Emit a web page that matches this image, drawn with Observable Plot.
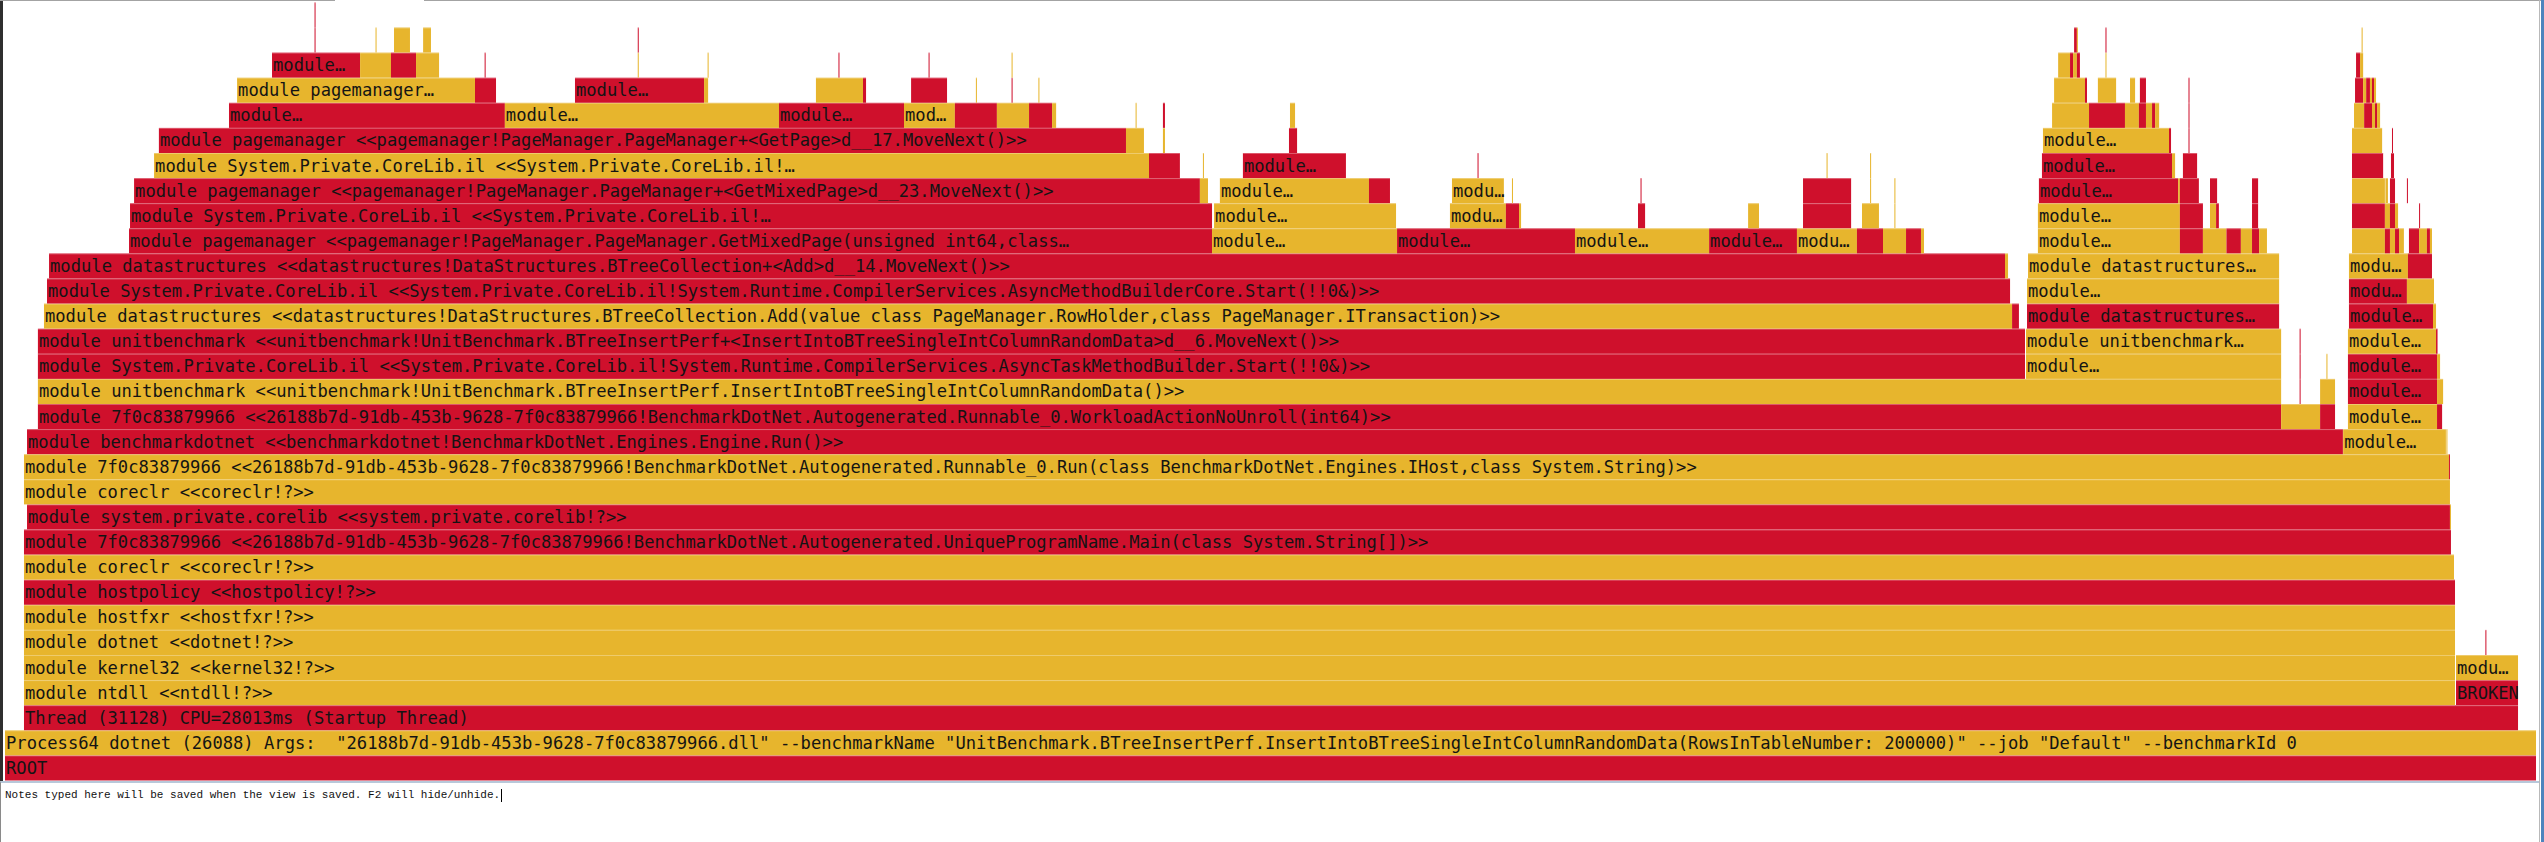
<!DOCTYPE html>
<html>
<head>
<meta charset="utf-8">
<script src="https://cdn.jsdelivr.net/npm/d3@7"></script>
<script src="https://cdn.jsdelivr.net/npm/@observablehq/plot@0.6"></script>
<style>
  html, body { margin: 0; padding: 0; background: #fff; }
  body { width: 2544px; height: 842px; overflow: hidden; position: relative; }
  #chart { position: absolute; left: 0; top: 0; }
  #chart svg text { white-space: pre; }
  #leftbar { position: absolute; left: 0; top: 0; width: 3px; height: 782px; background: #2e2e2e; }
  #topline { position: absolute; left: 0; top: 0; width: 2544px; height: 1px; background: #a3a3a3; }
  #topgap { position: absolute; left: 335px; top: 0; width: 89px; height: 1px; background: #fff; }
  #rightgray { position: absolute; left: 2539px; top: 0; width: 1px; height: 842px; background: #b9b9b9; }
  #rightbar { position: absolute; left: 2541px; top: 0; width: 3px; height: 842px; background: #4d84bd; }
  #notes { position: absolute; left: 0; top: 781px; width: 2539px; height: 61px;
           border-top: 2px solid #b8c8da; border-left: 1px solid #8a8a8a; box-sizing: border-box;
           font-family: "Liberation Mono", monospace; font-size: 11px; color: #111;
           padding: 6px 0 0 4px; line-height: 13px; white-space: pre; }
  #cursor { display: inline-block; width: 1px; height: 13px; background: #000; vertical-align: top; margin-left: 1px; }
</style>
</head>
<body>
<div id="chart"></div>
<div id="leftbar"></div>
<div id="topline"></div>
<div id="topgap"></div>
<div id="notes">Notes typed here will be saved when the view is saved. F2 will hide/unhide.<span id="cursor"></span></div>
<div id="rightgray"></div>
<div id="rightbar"></div>
<script>
// Flame graph frames: [start % of samples, end % of samples, colour group, displayed label]
const level00 = [[0, 100, "R", "ROOT"]];
const level01 = [[0, 100, "Y", 'Process64 dotnet (26088) Args:  "26188b7d-91db-453b-9628-7f0c83879966.dll" --benchmarkName "UnitBenchmark.BTreeInsertPerf.InsertIntoBTreeSingleIntColumnRandomData(RowsInTableNumber: 200000)" --job "Default" --benchmarkId 0']];
const level02 = [[0.75, 99.29, "R", "Thread (31128) CPU=28013ms (Startup Thread)"]];
const level03 = [[0.75, 96.80, "Y", "module ntdll <<ntdll!?>>"], [96.84, 99.29, "R", "BROKEN"]];
const level04 = [[0.75, 96.80, "Y", "module kernel32 <<kernel32!?>>"], [96.84, 99.29, "Y", "modu…"]];
const level05 = [[0.75, 96.80, "Y", "module dotnet <<dotnet!?>>"], [98.00, 98.04, "R", ""]];
const level06 = [[0.75, 96.80, "Y", "module hostfxr <<hostfxr!?>>"]];
const level07 = [[0.75, 96.80, "R", "module hostpolicy <<hostpolicy!?>>"]];
const level08 = [[0.75, 96.76, "Y", "module coreclr <<coreclr!?>>"]];
const level09 = [[0.75, 96.64, "R", "module 7f0c83879966 <<26188b7d-91db-453b-9628-7f0c83879966!BenchmarkDotNet.Autogenerated.UniqueProgramName.Main(class System.String[])>>"]];
const level10 = [[0.87, 96.60, "R", "module system.private.corelib <<system.private.corelib!?>>"], [96.60, 96.64, "Y", ""]];
const level11 = [[0.75, 96.60, "Y", "module coreclr <<coreclr!?>>"]];
const level12 = [[0.75, 96.56, "Y", "module 7f0c83879966 <<26188b7d-91db-453b-9628-7f0c83879966!BenchmarkDotNet.Autogenerated.Runnable_0.Run(class BenchmarkDotNet.Engines.IHost,class System.String)>>"], [96.56, 96.60, "R", ""]];
const level13 = [[0.87, 92.37, "R", "module benchmarkdotnet <<benchmarkdotnet!BenchmarkDotNet.Engines.Engine.Run()>>"], [92.38, 96.44, "Y", "module…"], [96.46, 96.50, "Y", ""]];
const level14 = [[1.30, 89.93, "R", "module 7f0c83879966 <<26188b7d-91db-453b-9628-7f0c83879966!BenchmarkDotNet.Autogenerated.Runnable_0.WorkloadActionNoUnroll(int64)>>"], [89.93, 91.47, "Y", ""], [91.47, 92.06, "R", ""], [92.57, 96.09, "Y", "module…"], [96.09, 96.29, "R", ""]];
const level15 = [[1.30, 89.93, "Y", "module unitbenchmark <<unitbenchmark!UnitBenchmark.BTreeInsertPerf.InsertIntoBTreeSingleIntColumnRandomData()>>"], [90.66, 90.70, "R", ""], [91.47, 92.06, "Y", ""], [92.57, 96.09, "R", "module…"], [96.09, 96.33, "Y", ""]];
const level16 = [[1.30, 79.81, "R", "module System.Private.CoreLib.il <<System.Private.CoreLib.il!System.Runtime.CompilerServices.AsyncTaskMethodBuilder.Start(!!0&)>>"], [79.85, 89.93, "Y", "module…"], [90.66, 90.70, "R", ""], [91.72, 91.76, "Y", ""], [92.57, 96.09, "R", "module…"], [96.09, 96.21, "Y", ""]];
const level17 = [[1.30, 79.81, "R", "module unitbenchmark <<unitbenchmark!UnitBenchmark.BTreeInsertPerf+<InsertIntoBTreeSingleIntColumnRandomData>d__6.MoveNext()>>"], [79.85, 89.93, "Y", "module unitbenchmark…"], [90.66, 90.70, "R", ""], [92.57, 96.05, "Y", "module…"], [96.05, 96.11, "R", ""]];
const level18 = [[1.54, 79.30, "Y", "module datastructures <<datastructures!DataStructures.BTreeCollection.Add(value class PageManager.RowHolder,class PageManager.ITransaction)>>"], [79.30, 79.57, "R", ""], [79.89, 89.85, "R", "module datastructures…"], [92.61, 95.93, "R", "module…"], [95.93, 96.05, "Y", ""]];
const level19 = [[1.66, 79.22, "R", "module System.Private.CoreLib.il <<System.Private.CoreLib.il!System.Runtime.CompilerServices.AsyncMethodBuilderCore.Start(!!0&)>>"], [79.89, 89.85, "Y", "module…"], [92.61, 94.90, "R", "modu…"], [94.90, 95.97, "Y", ""]];
const level20 = [[1.74, 79.02, "R", "module datastructures <<datastructures!DataStructures.BTreeCollection+<Add>d__14.MoveNext()>>"], [79.02, 79.14, "Y", ""], [79.93, 89.85, "Y", "module datastructures…"], [92.61, 94.94, "Y", "modu…"], [94.94, 95.89, "R", ""]];
const level21 = [[4.90, 47.69, "R", "module pagemanager <<pagemanager!PageManager.PageManager.GetMixedPage(unsigned int64,class…"], [47.69, 55.00, "Y", "module…"], [55.00, 62.03, "R", "module…"], [62.03, 67.33, "Y", "module…"], [67.33, 70.80, "R", "module…"], [70.80, 73.17, "Y", "modu…"], [73.17, 74.20, "R", ""], [74.20, 75.11, "Y", ""], [75.11, 75.70, "R", ""], [75.70, 75.82, "Y", ""], [80.32, 85.93, "Y", "module…"], [85.93, 86.84, "R", ""], [86.84, 87.77, "Y", ""], [87.77, 88.34, "R", ""], [88.34, 88.78, "Y", ""], [88.78, 89.06, "R", ""], [89.06, 89.37, "Y", ""], [92.73, 94.03, "Y", ""], [94.03, 94.23, "R", ""], [94.23, 94.43, "Y", ""], [94.43, 94.59, "R", ""], [94.59, 94.78, "Y", ""], [94.98, 95.38, "R", ""], [95.38, 95.69, "Y", ""], [95.69, 95.81, "R", ""], [95.81, 95.89, "Y", ""]];
const level22 = [[4.94, 47.69, "R", "module System.Private.CoreLib.il <<System.Private.CoreLib.il!…"], [47.77, 54.96, "Y", "module…"], [57.09, 59.30, "Y", "modu…"], [59.30, 59.82, "R", ""], [59.82, 59.90, "Y", ""], [64.52, 64.80, "R", ""], [68.87, 69.30, "Y", ""], [71.04, 72.94, "R", ""], [73.37, 74.04, "Y", ""], [74.65, 74.69, "Y", ""], [80.32, 85.93, "Y", "module…"], [85.93, 86.84, "R", ""], [87.12, 87.36, "Y", ""], [87.36, 87.47, "R", ""], [88.78, 89.02, "R", ""], [92.73, 94.03, "R", ""], [94.03, 94.23, "Y", ""], [94.23, 94.43, "R", ""], [94.43, 94.55, "Y", ""], [95.38, 95.42, "R", ""]];
const level23 = [[5.10, 47.21, "R", "module pagemanager <<pagemanager!PageManager.PageManager+<GetMixedPage>d__23.MoveNext()>>"], [47.21, 47.53, "Y", ""], [48.00, 53.89, "Y", "module…"], [53.89, 54.72, "R", ""], [57.17, 59.22, "Y", "modu…"], [59.54, 59.58, "Y", ""], [64.62, 64.66, "R", ""], [71.04, 72.94, "R", ""], [73.69, 73.73, "Y", ""], [74.65, 74.69, "Y", ""], [80.36, 85.86, "R", "module…"], [85.86, 85.93, "Y", ""], [85.93, 86.68, "R", ""], [87.12, 87.40, "R", ""], [88.78, 89.02, "R", ""], [92.73, 94.03, "Y", ""], [94.05, 94.15, "Y", ""], [94.23, 94.43, "R", ""], [94.90, 94.94, "R", ""]];
const level24 = [[5.89, 45.20, "Y", "module System.Private.CoreLib.il <<System.Private.CoreLib.il!…"], [45.20, 46.42, "R", ""], [47.33, 47.37, "Y", ""], [48.91, 52.98, "R", "module…"], [58.18, 58.22, "R", ""], [71.97, 72.01, "Y", ""], [73.69, 73.73, "Y", ""], [80.48, 85.62, "R", "module…"], [85.62, 85.74, "Y", ""], [86.05, 86.61, "R", ""], [92.73, 93.96, "R", ""], [94.27, 94.39, "R", ""]];
const level25 = [[6.08, 44.29, "R", "module pagemanager <<pagemanager!PageManager.PageManager+<GetPage>d__17.MoveNext()>>"], [44.29, 45.00, "Y", ""], [45.75, 45.83, "Y", ""], [50.73, 51.05, "R", ""], [80.52, 85.50, "Y", "module…"], [85.50, 85.58, "R", ""], [86.27, 86.31, "R", ""], [92.73, 93.92, "Y", ""], [94.31, 94.35, "R", ""]];
const level26 = [[8.85, 19.75, "R", "module…"], [19.75, 30.58, "Y", "module…"], [30.58, 35.52, "R", "module…"], [35.52, 37.53, "Y", "mod…"], [37.53, 39.19, "R", ""], [39.19, 40.46, "Y", ""], [40.46, 41.37, "R", ""], [41.37, 41.53, "Y", ""], [44.67, 44.71, "Y", ""], [45.75, 45.83, "R", ""], [50.77, 50.97, "Y", ""], [80.88, 82.34, "Y", ""], [82.34, 83.76, "R", ""], [83.76, 84.31, "Y", ""], [84.31, 84.59, "R", ""], [84.59, 84.83, "Y", ""], [84.83, 84.95, "R", ""], [84.95, 85.11, "Y", ""], [86.27, 86.31, "R", ""], [92.81, 93.21, "Y", ""], [93.21, 93.52, "R", ""], [93.52, 93.64, "Y", ""], [93.64, 93.72, "R", ""], [93.72, 93.84, "Y", ""]];
const level27 = [[9.17, 18.57, "Y", "module pagemanager…"], [18.57, 19.40, "R", ""], [22.52, 27.62, "R", "module…"], [27.62, 27.78, "Y", ""], [32.04, 33.90, "Y", ""], [33.90, 34.02, "R", ""], [35.80, 37.22, "R", ""], [38.36, 38.40, "Y", ""], [39.77, 39.81, "R", ""], [40.83, 40.87, "Y", ""], [80.96, 82.18, "Y", ""], [82.18, 82.26, "R", ""], [82.69, 83.41, "Y", ""], [83.96, 84.16, "Y", ""], [84.35, 84.59, "R", ""], [86.27, 86.31, "R", ""], [92.85, 93.17, "R", ""], [93.17, 93.29, "Y", ""], [93.29, 93.44, "R", ""], [93.44, 93.52, "Y", ""], [93.52, 93.60, "R", ""], [93.60, 93.68, "Y", ""]];
const level28 = [[10.55, 14.03, "R", "module…"], [14.03, 15.25, "Y", ""], [15.25, 16.24, "R", ""], [16.24, 17.15, "Y", ""], [18.95, 18.99, "R", ""], [25.00, 25.04, "Y", ""], [27.76, 27.80, "Y", ""], [32.93, 32.97, "R", ""], [36.49, 36.53, "R", ""], [39.77, 39.81, "Y", ""], [81.12, 81.59, "Y", ""], [81.59, 81.71, "R", ""], [81.71, 81.86, "Y", ""], [81.86, 81.98, "R", ""], [82.99, 83.03, "Y", ""], [92.89, 93.05, "R", ""], [93.05, 93.17, "Y", ""]];
const level29 = [[12.23, 12.27, "R", ""], [14.64, 14.68, "Y", ""], [15.37, 16.00, "Y", ""], [16.52, 16.83, "Y", ""], [25.00, 25.04, "R", ""], [81.75, 81.86, "R", ""], [81.86, 81.90, "Y", ""], [82.99, 83.03, "R", ""], [93.11, 93.15, "Y", ""]];
const level30 = [[12.23, 12.27, "R", ""]];

const colourGroups = ["R", "Y"];
const colourValues = ["#cf102c", "#e7b52d"];

const levels = [level00, level01, level02, level03, level04, level05, level06, level07, level08, level09,
  level10, level11, level12, level13, level14, level15, level16, level17, level18, level19,
  level20, level21, level22, level23, level24, level25, level26, level27, level28, level29, level30];

const frames = levels.flatMap((lv, i) => lv.map(([s, e, k, l]) => ({level: i, start: s, end: e, kind: k, label: l})));

const chart = Plot.plot({
  width: 2544,
  height: 782,
  margin: 0,
  style: {background: "transparent", overflow: "visible"},
  x: {domain: [0, 100], range: [5, 2536], axis: null},
  y: {domain: [0, levels.length], range: [780.5, 2.4], axis: null},
  color: {type: "ordinal", domain: colourGroups, range: colourValues},
  marks: [
    Plot.rect(frames, {x1: "start", x2: "end", y1: "level", y2: d => d.level + 1, fill: "kind"}),
    Plot.ruleY(frames, {y: d => d.level + 1, x1: "start", x2: "end", stroke: "white", strokeOpacity: 0.3, strokeWidth: 1}),
    Plot.text(frames.filter(d => d.label), {
      x: "start", y: d => d.level + 0.5, text: "label",
      textAnchor: "start", dx: 0.5,
      fontFamily: "DejaVu Sans Mono", fontSize: 17.15, fill: "#141414"
    })
  ]
});
document.getElementById("chart").appendChild(chart);
</script>
</body>
</html>
